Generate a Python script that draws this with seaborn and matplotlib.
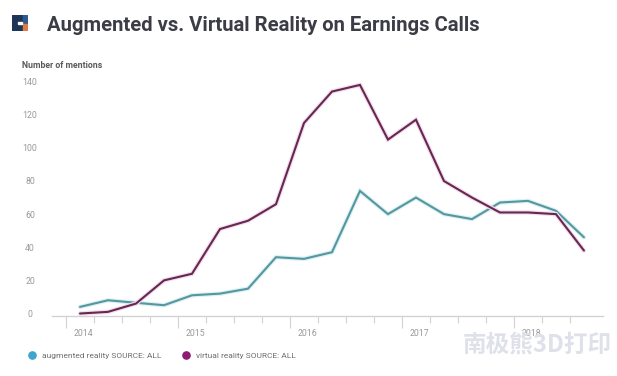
import numpy as np
import pandas as pd
import matplotlib
matplotlib.use("Agg")
import matplotlib.pyplot as plt
import seaborn as sns
import matplotlib.patheffects as pe
from matplotlib.lines import Line2D
from matplotlib.patches import Rectangle
from matplotlib.transforms import ScaledTranslation

# ---- data (quarterly mentions) ----
quarters = ["2014Q1", "2014Q2", "2014Q3", "2014Q4",
            "2015Q1", "2015Q2", "2015Q3", "2015Q4",
            "2016Q1", "2016Q2", "2016Q3", "2016Q4",
            "2017Q1", "2017Q2", "2017Q3", "2017Q4",
            "2018Q1", "2018Q2", "2018Q3"]
augmented = [4, 8, 6.5, 5, 11, 12, 15, 34, 33, 37, 74, 60, 70, 60, 57, 67, 68, 62, 46]
virtual = [0, 1, 6, 20, 24, 51, 56, 66, 115, 134, 138, 105, 117, 80, 70, 61, 61, 60, 38]
series_names = ["augmented reality SOURCE: ALL", "virtual reality SOURCE: ALL"]
year_labels = ["2014", "2015", "2016", "2017", "2018"]
y_ticks = [0, 20, 40, 60, 80, 100, 120, 140]

title = "Augmented vs. Virtual Reality on Earnings Calls"
y_title = "Number of mentions"
watermark = "南极熊3D打印"

line_colors = {series_names[0]: "#5597a0", series_names[1]: "#65284f"}
glow_colors = {series_names[0]: "#dcf1f3", series_names[1]: "#f4dcef"}
legend_colors = ["#3ea5cc", "#8c1d72"]

# ---- build long table ----
pos = np.arange(len(quarters)) + 0.5  # mid-quarter positions
df = pd.DataFrame({
    "pos": np.concatenate([pos, pos]),
    "quarter": quarters + quarters,
    "mentions": augmented + virtual,
    "series": [series_names[0]] * len(quarters) + [series_names[1]] * len(quarters),
})

sns.set_theme(style="white")
plt.rcParams["font.family"] = ["Roboto", "DejaVu Sans"]

W, H = 617, 376
fig = plt.figure(figsize=(W / 100, H / 100), dpi=100)
ax = fig.add_axes([52 / W, 1 - 316 / H, 551 / W, (316 - 78.3) / H])

sns.lineplot(data=df, x="pos", y="mentions", hue="series",
             palette=line_colors, linewidth=1.5, legend=False, ax=ax)
for line, name in zip(ax.get_lines(), series_names):
    line.set_path_effects([pe.Stroke(linewidth=3.2, foreground=glow_colors[name]),
                           pe.Normal()])
    line.set_solid_joinstyle("miter")

ax.set_xlim(-0.5, 19.18)
ax.set_ylim(-1.5, 142)
ax.set_xlabel("")
ax.set_ylabel("")

for s in ["left", "right", "top"]:
    ax.spines[s].set_visible(False)
ax.spines["bottom"].set_color("#d2d2d2")
ax.spines["bottom"].set_linewidth(1.0)

# y axis
ax.set_yticks(y_ticks)
ax.set_yticklabels([str(v) for v in y_ticks])
ax.tick_params(axis="y", length=0, pad=15.8, labelsize=6.3, labelcolor="#9a9a9a")
for lbl in ax.get_yticklabels():
    lbl.set_ha("center")

# x axis: year major ticks, quarter minor ticks
ax.set_xticks([0, 4, 8, 12, 16])
ax.set_xticklabels(year_labels)
ax.set_xticks(np.arange(0, 19), minor=True)
ax.tick_params(axis="x", which="major", length=8.6, width=0.8, color="#d2d2d2",
               pad=0.6, labelsize=6.3, labelcolor="#9a9a9a", bottom=True)
ax.tick_params(axis="x", which="minor", length=5.0, width=0.8, color="#d2d2d2",
               bottom=True)
offset = ScaledTranslation(7.6 / 100, 0, fig.dpi_scale_trans)
for lbl in ax.get_xticklabels():
    lbl.set_ha("left")
    lbl.set_transform(lbl.get_transform() + offset)

# title & axis caption
fig.text(47 / W, 1 - 31 / H, title, ha="left", va="baseline", fontsize=14.6,
         fontweight="bold", color="#3c3c46",
         family=["Liberation Sans Narrow", "DejaVu Sans Condensed", "Roboto"])
fig.text(22 / W, 1 - 66 / H, y_title, ha="left", va="center", fontsize=6.3,
         fontweight="bold", color="#5a5a5a")

# logo
lax = fig.add_axes([12 / W, 1 - 31 / H, 16 / W, 16 / H])
lax.set_xlim(0, 16)
lax.set_ylim(16, 0)
lax.axis("off")
lax.add_patch(Rectangle((0, 0), 10, 16, color="#1d3556"))
lax.add_patch(Rectangle((11, 0), 5, 7.5, color="#2d5b8c"))
lax.add_patch(Rectangle((11, 8.5), 5, 7.5, color="#e07a45"))
lax.add_patch(Rectangle((6, 7.3), 4, 1.4, color="white"))

# legend
handles = [Line2D([], [], marker="o", linestyle="", markersize=5.2,
                  markerfacecolor=c, markeredgecolor=c) for c in legend_colors]
fig.legend(handles, series_names, loc="center left",
           bbox_to_anchor=(28.3 / W, 1 - 356 / H), ncol=2, frameon=False,
           borderaxespad=0, borderpad=0, handlelength=1.0, handletextpad=0.65,
           columnspacing=2.5, fontsize=6.0, labelcolor="#6e6e6e")

# watermark
fig.text(612 / W, 1 - 345 / H, watermark, ha="right", va="center", fontsize=17,
         fontweight="bold", color="#dfe1ea", family=["Noto Sans CJK SC", "DejaVu Sans"])

fig.savefig("out.png", dpi=100)
